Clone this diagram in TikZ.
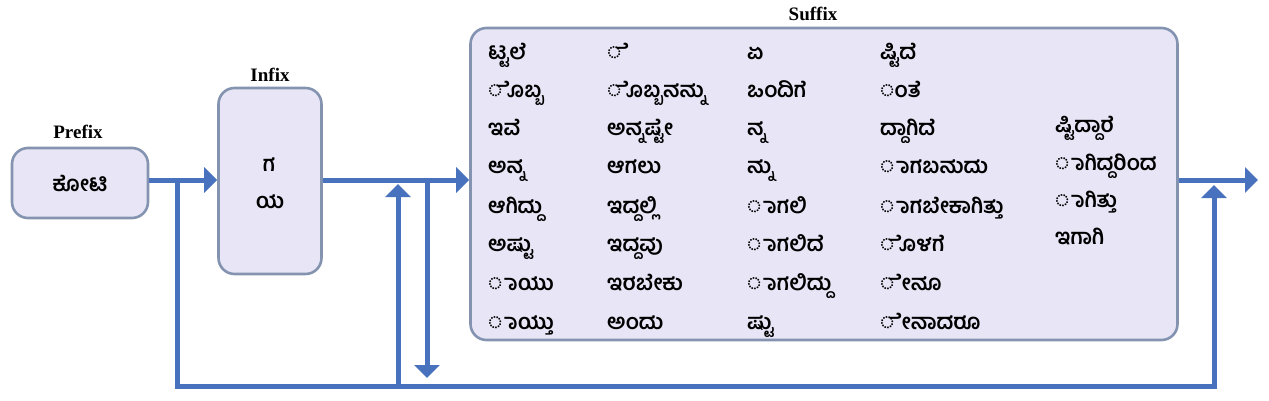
\documentclass[tikz,border=0pt]{standalone}
\usepackage{fontspec}
\setmainfont{Liberation Serif}
\newfontfamily\kn[Script=Kannada]{Hind Mysuru}
\usetikzlibrary{arrows.meta}
\definecolor{boxfill}{RGB}{232,230,246}
\definecolor{boxline}{RGB}{132,148,176}
\definecolor{arrowblue}{RGB}{72,114,190}
\tikzset{
  box/.style={draw=boxline, fill=boxfill, line width=2.6pt, rounded corners=16pt, inner sep=0pt},
  lab/.style={font=\bfseries\fontsize{19}{21}\selectfont, inner sep=0pt},
  kt/.style={font=\kn\bfseries\fontsize{21.5}{24}\selectfont, inner sep=0pt, anchor=west, text height=18pt, text depth=3pt},
  ktc/.style={font=\kn\bfseries\fontsize{21.5}{24}\selectfont, inner sep=0pt},
  conn/.style={draw=arrowblue, line width=5pt, line join=miter},
  arr/.style={conn, -{Triangle[length=13pt,width=25pt]}},
}
\begin{document}
\begin{tikzpicture}[x=1pt,y=-1pt]
\useasboundingbox (0,0) rectangle (1269,401);
% boxes
\node[box, minimum width=136pt, minimum height=70pt, ktc] (prefix) at (80,183) {ಕೋಟಿ};
\node[box, minimum width=103pt, minimum height=186pt] (infix) at (270,181) {};
\node[box, minimum width=707pt, minimum height=312pt] (suffix) at (824,184) {};
% labels
\node[lab] (lprefix) at (78,132) {Prefix};
\node[lab] (linfix) at (270,75) {Infix};
\node[lab] (lsuffix) at (813,14) {Suffix};
% infix letters
\node[ktc] (ig) at (269,165) {ಗ};
\node[ktc] (iy) at (270,202) {ಯ};
% suffix column 1
\node[kt] (a1) at (488,52) {ಟ್ಟಲೆ};
\node[kt] (a2) at (488,90) {◌ೊಬ್ಬ};
\node[kt] (a3) at (488,128) {ಇವೆ};
\node[kt] (a4) at (488,166) {ಅನ್ನ};
\node[kt] (a5) at (488,206) {ಆಗಿದ್ದು};
\node[kt] (a6) at (488,244) {ಅಷ್ಟು};
\node[kt] (a7) at (488,283) {◌ಾಯು};
\node[kt] (a8) at (488,322) {◌ಾಯ್ತು};
% column 2
\node[kt] (b1) at (607,52) {◌ೆ};
\node[kt] (b2) at (607,90) {◌ೊಬ್ಬನನ್ನು};
\node[kt] (b3) at (607,128) {ಅನ್ನಷ್ಟೇ};
\node[kt] (b4) at (607,166) {ಆಗಲು};
\node[kt] (b5) at (607,206) {ಇದ್ದಲ್ಲಿ};
\node[kt] (b6) at (607,244) {ಇದ್ದವು};
\node[kt] (b7) at (607,283) {ಇರಬೇಕು};
\node[kt] (b8) at (607,322) {ಅಂದು};
% column 3
\node[kt] (c1) at (747,52) {ಏ};
\node[kt] (c2) at (747,90) {ಒಂದಿಗೆ};
\node[kt] (c3) at (747,128) {ನ್ನ};
\node[kt] (c4) at (747,166) {ನ್ನು};
\node[kt] (c5) at (747,206) {◌ಾಗಲಿ};
\node[kt] (c6) at (747,244) {◌ಾಗಲಿದೆ};
\node[kt] (c7) at (747,283) {◌ಾಗಲಿದ್ದು};
\node[kt] (c8) at (747,322) {ಷ್ಟು};
% column 4
\node[kt] (d1) at (880,52) {ಷ್ಟಿದೆ};
\node[kt] (d2) at (880,90) {◌ಂತೆ};
\node[kt] (d3) at (880,128) {ದ್ದಾಗಿದೆ};
\node[kt] (d4) at (880,166) {◌ಾಗಬಹುದು};
\node[kt] (d5) at (880,206) {◌ಾಗಬೇಕಾಗಿತ್ತು};
\node[kt] (d6) at (880,244) {◌ೊಳಗೆ};
\node[kt] (d7) at (880,283) {◌ೇನೂ};
\node[kt] (d8) at (880,322) {◌ೇನಾದರೂ};
% column 5
\node[kt] (e1) at (1055,125) {ಷ್ಟಿದ್ದಾರೆ};
\node[kt] (e2) at (1055,163) {◌ಾಗಿದ್ದರಿಂದ};
\node[kt] (e3) at (1055,200) {◌ಾಗಿತ್ತು};
\node[kt] (e4) at (1055,237) {ಇಗಾಗಿ};
% junction coordinates
\coordinate (j1) at (177,180);
\coordinate (j2) at (398,184);
\coordinate (j3) at (427,180);
\coordinate (bl) at (177,386);
\coordinate (br) at (1214,386);
\coordinate (tr) at (1214,185);
\coordinate (b2) at (398,383.5);
\coordinate (t3) at (427,378);
\coordinate (out) at (1258,180);
% connectors
\draw[arr] (prefix.east |- j1) -- (infix.west |- j1);
\draw[arr] (infix.east |- j1) -- (suffix.west |- j1);
\draw[arr] (suffix.east |- j1) -- (out);
\draw[arr] (j1) -- (bl) -- (br) -- (tr);
\draw[arr] (b2) -- (j2);
\draw[arr] (j3) -- (t3);
\end{tikzpicture}
\end{document}
